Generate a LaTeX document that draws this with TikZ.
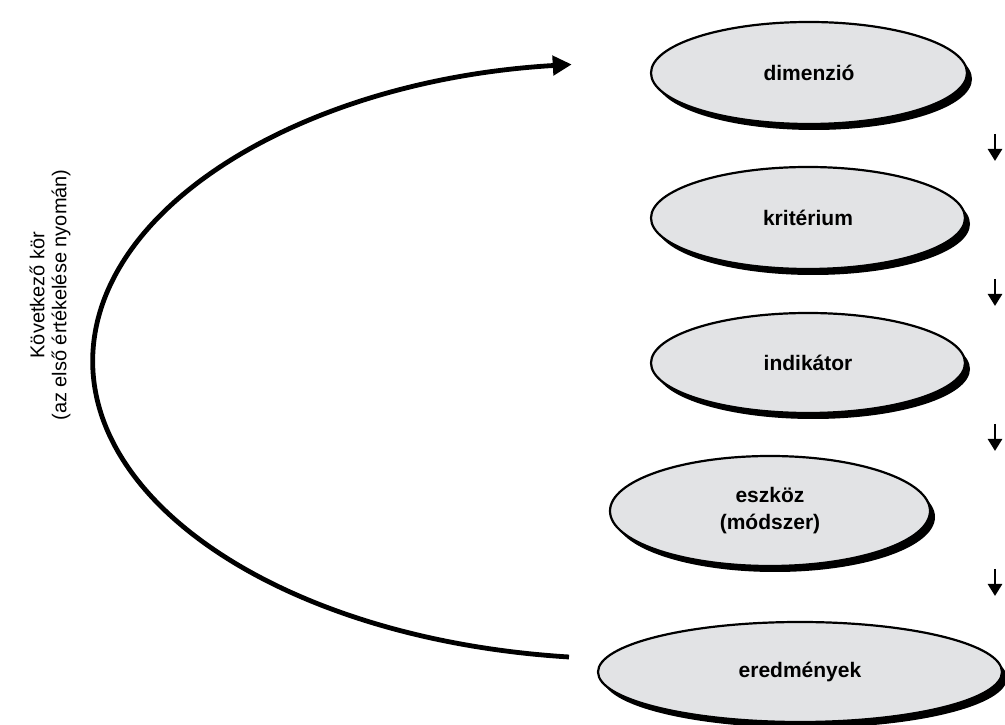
\documentclass[tikz,border=0pt]{standalone}
\usepackage{fontspec}
\setmainfont{Liberation Sans}
\usetikzlibrary{shapes.geometric,arrows.meta,shadows}
\definecolor{ellfill}{RGB}{226,227,229}
\begin{document}
\begin{tikzpicture}[x=1pt,y=1pt,
  stage/.style={ellipse, draw=black, line width=2.2pt, fill=ellfill, inner sep=0pt,
    align=center, font=\fontsize{21}{27}\selectfont\bfseries,
    drop shadow={shadow xshift=5pt, shadow yshift=-6pt, fill=black, opacity=1}},
  smallarrow/.style={line width=2.6pt, -{Triangle[length=12pt,width=14pt]}},
  bigarrow/.style={line width=4.8pt, -{Triangle[length=19pt,width=19pt]}},
  lbl/.style={font=\fontsize{20}{22}\selectfont, align=center, rotate=90}
]
\useasboundingbox (0,0) rectangle (1005,725);
% ellipses (y = 725 - pixel y)
\node[stage, minimum width=316pt, minimum height=102pt] (dim) at (809,652) {dimenzió};
\node[stage, minimum width=314pt, minimum height=102pt] (krit) at (808,507) {kritérium};
\node[stage, minimum width=314pt, minimum height=100pt] (ind) at (808,362) {indikátor};
\node[stage, minimum width=320pt, minimum height=110pt] (esz) at (770,214) {eszköz\\(módszer)};
\node[stage, minimum width=404pt, minimum height=100pt] (ered) at (800,53) {eredmények};
% small down arrows
\coordinate (a1s) at (995,591); \coordinate (a1e) at (995,564);
\coordinate (a2s) at (995,446); \coordinate (a2e) at (995,419);
\coordinate (a3s) at (995,301); \coordinate (a3e) at (995,274);
\coordinate (a4s) at (995,156); \coordinate (a4e) at (995,129);
\draw[smallarrow] (a1s) -- (a1e);
\draw[smallarrow] (a2s) -- (a2e);
\draw[smallarrow] (a3s) -- (a3e);
\draw[smallarrow] (a4s) -- (a4e);
% big return arc
\coordinate (arcstart) at (569,68);
\draw[bigarrow] (arcstart) arc[start angle=263.7, end angle=96.0, x radius=535, y radius=298];
% label
\node[lbl] (label) at (50,430) {Következő kör\\(az első értékelése nyomán)};
\end{tikzpicture}
\end{document}
